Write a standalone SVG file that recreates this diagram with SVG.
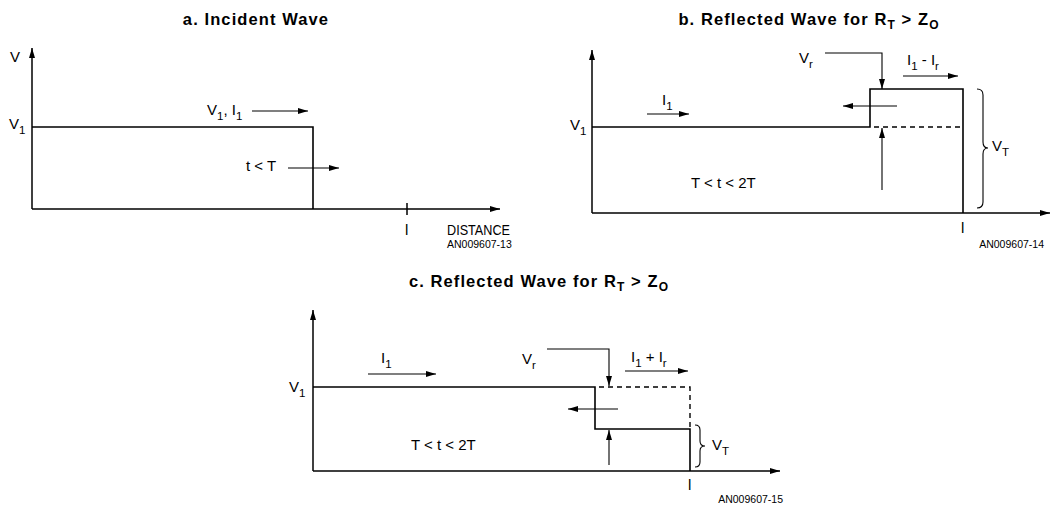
<svg xmlns="http://www.w3.org/2000/svg" width="1062" height="508" viewBox="0 0 1062 508">
<style>
.t{font-family:"Liberation Sans",Arial,sans-serif;font-weight:bold;font-size:16.5px;fill:#000;letter-spacing:1.1px}
.l{font-family:"Liberation Sans",Arial,sans-serif;font-size:15px;fill:#000}
.s{font-size:11.5px}
.ts{font-size:12px}
.an{font-family:"Liberation Sans",Arial,sans-serif;font-size:10.5px;fill:#000}
.w{fill:none;stroke:#000;stroke-width:1.6}
.ax{fill:none;stroke:#000;stroke-width:1.5}
.ar{fill:none;stroke:#000;stroke-width:1.1}
.d{fill:none;stroke:#000;stroke-width:1.4;stroke-dasharray:5,4}
</style>
<defs>
<marker id="ah" markerUnits="userSpaceOnUse" markerWidth="10" markerHeight="6" refX="10" refY="3" orient="auto">
<path d="M0,0 L10,3 L0,6 z" fill="#000"/>
</marker>
</defs>
<rect width="1062" height="508" fill="#fff"/>

<g id="panel-a">
<text class="t" x="256" y="25" text-anchor="middle">a. Incident Wave</text>
<path class="w" d="M32,127 H313 V209"/>
<line class="ax" x1="407" y1="203" x2="407" y2="215"/>
<text class="l" x="10" y="62">V</text>
<text class="l" x="9" y="129">V<tspan class="s" dy="5">1</tspan></text>
<text class="l" x="207" y="115">V<tspan class="s" dy="5">1</tspan><tspan dy="-5">, I</tspan><tspan class="s" dy="5">1</tspan></text>
<text class="l" x="246" y="171">t &lt; T</text>
<text class="l" x="405" y="235">l</text>
<text class="l" x="447" y="235" textLength="63" lengthAdjust="spacingAndGlyphs">DISTANCE</text>
<text class="an" x="447" y="248">AN009607-13</text>
</g>

<g id="panel-b">
<text class="t" x="809" y="25" text-anchor="middle">b. Reflected Wave for R<tspan class="ts" dy="4">T</tspan><tspan dy="-4"> &gt; Z</tspan><tspan class="ts" dy="4">O</tspan></text>
<path class="w" d="M592,127 H870 V89 H963 V213"/>
<line class="d" x1="874" y1="127" x2="963" y2="127"/>
<path class="ar" d="M977,89 Q983,89 983,95 L983,142 Q983,148 988,148 Q983,148 983,154 L983,202 Q983,208 977,208"/>
<text class="l" x="570" y="130">V<tspan class="s" dy="5">1</tspan></text>
<text class="l" x="662" y="105">I<tspan class="s" dy="5">1</tspan></text>
<text class="l" x="799" y="63">V<tspan class="s" dy="5">r</tspan></text>
<text class="l" x="907" y="65">I<tspan class="s" dy="5">1</tspan><tspan dy="-5"> - I</tspan><tspan class="s" dy="5">r</tspan></text>
<text class="l" x="691" y="188">T &lt; t &lt; 2T</text>
<text class="l" x="992" y="151">V<tspan class="s" dy="5">T</tspan></text>
<text class="l" x="961" y="233">l</text>
<text class="an" x="1044" y="248" text-anchor="end">AN009607-14</text>
</g>

<g id="panel-c">
<text class="t" x="539" y="287" text-anchor="middle">c. Reflected Wave for R<tspan class="ts" dy="4">T</tspan><tspan dy="-4"> &gt; Z</tspan><tspan class="ts" dy="4">O</tspan></text>
<path class="w" d="M313,387 H595 V429 H690 V471"/>
<path class="d" d="M599,387 H690 V429"/>
<path class="ar" d="M695,425 Q700,425 700,430 L700,441 Q700,446 705,446 Q700,446 700,451 L700,462 Q700,467 695,467"/>
<text class="l" x="289" y="392">V<tspan class="s" dy="5">1</tspan></text>
<text class="l" x="381" y="363">I<tspan class="s" dy="5">1</tspan></text>
<text class="l" x="522" y="364">V<tspan class="s" dy="5">r</tspan></text>
<text class="l" x="631" y="362">I<tspan class="s" dy="5">1</tspan><tspan dy="-5"> + I</tspan><tspan class="s" dy="5">r</tspan></text>
<text class="l" x="411" y="450">T &lt; t &lt; 2T</text>
<text class="l" x="712" y="450">V<tspan class="s" dy="5">T</tspan></text>
<text class="l" x="688" y="490">l</text>
<text class="an" x="783" y="503" text-anchor="end">AN009607-15</text>
</g>

<g id="connectors">
<line class="ax" x1="32" y1="209" x2="32" y2="48" marker-end="url(#ah)"/>
<line class="ax" x1="32" y1="209" x2="500" y2="209" marker-end="url(#ah)"/>
<line class="ar" x1="252" y1="111" x2="308" y2="111" marker-end="url(#ah)"/>
<line class="ar" x1="288" y1="168" x2="339" y2="168" marker-end="url(#ah)"/>

<line class="ax" x1="592" y1="213" x2="592" y2="50" marker-end="url(#ah)"/>
<line class="ax" x1="592" y1="213" x2="1050" y2="213" marker-end="url(#ah)"/>
<line class="ar" x1="647" y1="114" x2="689" y2="114" marker-end="url(#ah)"/>
<path class="ar" d="M825,53 H882 V89" marker-end="url(#ah)"/>
<line class="ar" x1="882" y1="190" x2="882" y2="128" marker-end="url(#ah)"/>
<line class="ar" x1="897" y1="106" x2="843" y2="106" marker-end="url(#ah)"/>
<line class="ar" x1="903" y1="76" x2="958" y2="76" marker-end="url(#ah)"/>

<line class="ax" x1="313" y1="471" x2="313" y2="310" marker-end="url(#ah)"/>
<line class="ax" x1="313" y1="471" x2="780" y2="471" marker-end="url(#ah)"/>
<line class="ar" x1="368" y1="374" x2="436" y2="374" marker-end="url(#ah)"/>
<path class="ar" d="M547,349 H609 V386" marker-end="url(#ah)"/>
<line class="ar" x1="609" y1="465" x2="609" y2="430" marker-end="url(#ah)"/>
<line class="ar" x1="618" y1="409" x2="568" y2="409" marker-end="url(#ah)"/>
<line class="ar" x1="625" y1="371" x2="688" y2="371" marker-end="url(#ah)"/>
</g>
</svg>
